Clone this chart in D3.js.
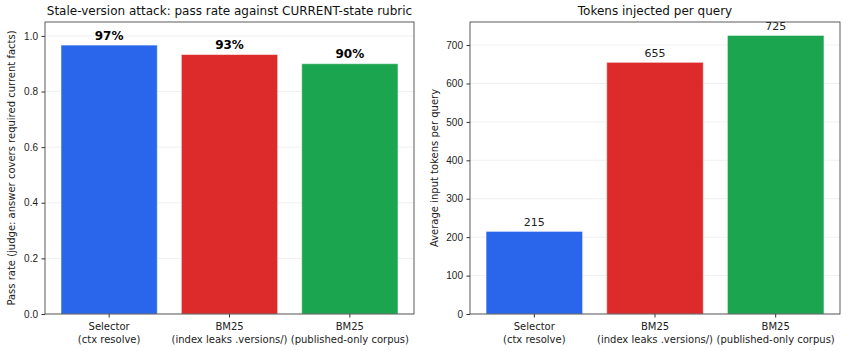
<!DOCTYPE html>
<html>
<head>
<meta charset="utf-8">
<script src="https://cdn.jsdelivr.net/npm/d3@7"></script>
<style>
  body { margin: 0; background: #fff; }
  svg { display: block; font-family: "DejaVu Sans", sans-serif; }
  .grid line { stroke: #ececec; stroke-width: 0.8; }
  .axis text { fill: #222; font-size: 10px; }
  .axis line, .axis path { stroke: #333; }
</style>
</head>
<body>
<div id="chart"></div>
<script>
// Data
const categories = ["Selector\n(ctx resolve)", "BM25\n(index leaks .versions/)", "BM25\n(published-only corpus)"];
const colors = ["#2563eb", "#dc2626", "#16a34a"];
const passRates = [0.967, 0.933, 0.90];
const passLabels = ["97%", "93%", "90%"];
const tokens = [215, 655, 725];
const passTicks = [0, 0.2, 0.4, 0.6, 0.8, 1.0];
const tokenTicks = [0, 100, 200, 300, 400, 500, 600, 700];

const W = 847, H = 351;
const svg = d3.select("#chart").append("svg").attr("width", W).attr("height", H);

function drawPanel(opt) {
    const { left, right, top, bottom } = opt;
    const g = svg.append("g");

    // x positions: matplotlib-like, bar width 0.8, xlim -0.53..2.53
    const x = d3.scaleLinear().domain([-0.533, 2.533]).range([left, right]);
    const y = d3.scaleLinear().domain(opt.yDomain).range([bottom, top]);

    // grid
    g.append("g").attr("class", "grid")
        .selectAll("line").data(opt.ticks).enter().append("line")
        .attr("x1", left).attr("x2", right)
        .attr("y1", d => y(d)).attr("y2", d => y(d));

    // bars
    g.selectAll(".bar").data(opt.values).enter().append("rect")
        .attr("x", (d, i) => x(i - 0.4))
        .attr("width", x(0.8) - x(0))
        .attr("y", d => y(d))
        .attr("height", d => bottom - y(d))
        .attr("fill", (d, i) => colors[i])
        .attr("fill-opacity", 0.98)
        .attr("stroke", "#fff")
        .attr("stroke-opacity", 0.5)
        .attr("stroke-width", 1);

    // value labels
    g.selectAll(".val").data(opt.values).enter().append("text")
        .attr("x", (d, i) => x(i))
        .attr("y", d => y(d) - opt.labelGap)
        .attr("text-anchor", "middle")
        .style("font-size", opt.labelSize)
        .style("font-weight", opt.labelWeight)
        .style("fill", opt.labelColor)
        .text((d, i) => opt.labels[i]);

    // y axis
    g.append("g").attr("class", "axis")
        .attr("transform", `translate(${left},0)`)
        .call(d3.axisLeft(y).tickValues(opt.ticks).tickFormat(opt.fmt).tickSize(3.5).tickPadding(3.5))
        .call(a => a.select(".domain").remove());

    // x axis ticks
    const xa = g.append("g").attr("class", "axis")
        .attr("transform", `translate(0,${bottom})`);
    xa.selectAll("line").data(categories).enter().append("line")
        .attr("x1", (d, i) => x(i)).attr("x2", (d, i) => x(i))
        .attr("y1", 0).attr("y2", 3.5);
    xa.selectAll("text").data(categories).enter().append("text")
        .attr("x", (d, i) => x(i))
        .attr("text-anchor", "middle")
        .each(function (d) {
            d.split("\n").forEach((line, k) => {
                d3.select(this).append("tspan")
                    .attr("x", d3.select(this).attr("x"))
                    .attr("y", 16 + k * 13)
                    .text(line);
            });
        });

    // frame
    g.append("rect")
        .attr("x", left).attr("y", top)
        .attr("width", right - left).attr("height", bottom - top)
        .attr("fill", "none").attr("stroke", "#333").attr("stroke-width", 0.8);

    // title
    g.append("text")
        .attr("x", (left + right) / 2).attr("y", top - 7)
        .attr("text-anchor", "middle")
        .style("font-size", "12px").style("fill", "#111")
        .text(opt.title);

    // y label
    g.append("text")
        .attr("transform", `translate(${opt.yLabelX},${(top + bottom) / 2}) rotate(-90)`)
        .attr("text-anchor", "middle")
        .style("font-size", "10px").style("fill", "#222")
        .text(opt.yLabel);
}

drawPanel({
    left: 45, right: 414, top: 22, bottom: 314,
    yDomain: [0, 1.05],
    ticks: passTicks,
    fmt: d3.format(".1f"),
    values: passRates,
    labels: passLabels,
    labelGap: 5.5,
    labelSize: "12px",
    labelWeight: "bold",
    labelColor: "#000",
    title: "Stale-version attack: pass rate against CURRENT-state rubric",
    yLabel: "Pass rate (judge: answer covers required current facts)",
    yLabelX: 15
});

drawPanel({
    left: 470, right: 840, top: 22, bottom: 314,
    yDomain: [0, 760],
    ticks: tokenTicks,
    fmt: d3.format("d"),
    values: tokens,
    labels: tokens.map(String),
    labelGap: 5,
    labelSize: "11px",
    labelWeight: "normal",
    labelColor: "#222",
    title: "Tokens injected per query",
    yLabel: "Average input tokens per query",
    yLabelX: 438
});
</script>
</body>
</html>
